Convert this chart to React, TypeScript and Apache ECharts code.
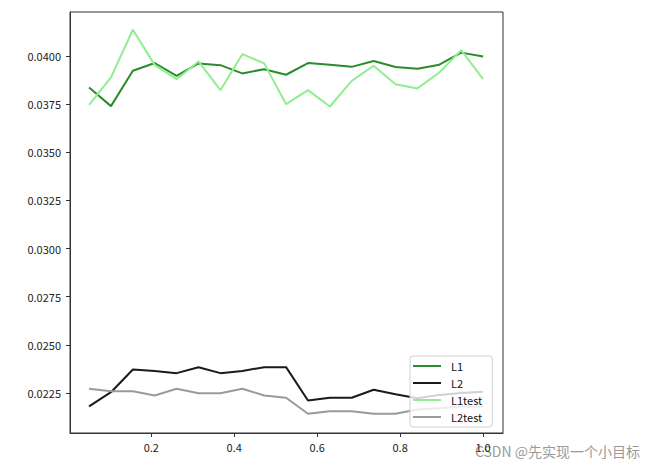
import React, { useEffect, useRef } from "react";
import * as echarts from "echarts";

const xValues = [0.05, 0.1028, 0.1556, 0.2083, 0.2611, 0.3139, 0.3667, 0.4194, 0.4722, 0.525, 0.5778, 0.6306, 0.6833, 0.7361, 0.7889, 0.8417, 0.8944, 0.9472, 1.0];
const l1 = [0.03837, 0.0374, 0.03924, 0.03964, 0.03897, 0.03962, 0.03953, 0.0391, 0.03932, 0.03903, 0.03964, 0.03955, 0.03944, 0.03974, 0.03943, 0.03934, 0.03955, 0.04018, 0.03998];
const l2 = [0.0218, 0.02254, 0.02372, 0.02364, 0.02353, 0.02384, 0.02353, 0.02364, 0.02384, 0.02384, 0.02211, 0.02225, 0.02225, 0.02267, 0.02243, 0.02222, 0.0224, 0.0225, 0.02256];
const l1test = [0.03746, 0.03889, 0.04137, 0.03953, 0.0388, 0.03972, 0.03823, 0.0401, 0.03962, 0.0375, 0.03823, 0.03738, 0.03871, 0.0395, 0.03854, 0.03832, 0.03915, 0.04031, 0.0388];
const l2test = [0.02272, 0.02259, 0.02259, 0.02237, 0.02272, 0.02249, 0.02249, 0.02272, 0.02237, 0.02225, 0.02142, 0.02155, 0.02155, 0.02142, 0.02142, 0.02164, 0.0217, 0.0218, 0.0218];
const xTicks = [0.2, 0.4, 0.6, 0.8, 1.0];
const yTicks = [0.0225, 0.025, 0.0275, 0.03, 0.0325, 0.035, 0.0375, 0.04];

const FONT = "'Noto Sans CJK SC', 'DejaVu Sans', sans-serif";

const seriesDefs = [
  { name: "L1", data: l1, color: "#2a8c2a" },
  { name: "L2", data: l2, color: "#1a1a1a" },
  { name: "L1test", data: l1test, color: "#90ee90" },
  { name: "L2test", data: l2test, color: "#9a9a9a" },
];

export default function App() {
  const ref = useRef<HTMLDivElement>(null);
  useEffect(() => {
    if (!ref.current) return;
    const chart = echarts.init(ref.current, undefined, { renderer: "svg" });
    chart.setOption({
      animation: false,
      backgroundColor: "#ffffff",
      grid: {
        left: 70,
        top: 12,
        width: 433,
        height: 421,
        show: true,
        borderColor: "#333",
        borderWidth: 1,
        containLabel: false,
      },
      xAxis: {
        type: "value",
        min: 0.004,
        max: 1.048,
        splitLine: { show: false },
        axisLine: { show: true, lineStyle: { color: "#333", width: 1 } },
        axisTick: { show: true, length: 4, lineStyle: { color: "#333" }, customValues: xTicks },
        axisLabel: {
          customValues: xTicks,
          margin: 8,
          fontSize: 11,
          fontFamily: FONT,
          color: "#222",
          formatter: (v: number) => v.toFixed(1),
        },
      },
      yAxis: {
        type: "value",
        min: 0.02042,
        max: 0.04229,
        splitLine: { show: false },
        axisLine: { show: true, lineStyle: { color: "#333", width: 1 } },
        axisTick: { show: true, length: 4, lineStyle: { color: "#333" }, customValues: yTicks },
        axisLabel: {
          customValues: yTicks,
          margin: 9,
          fontSize: 11,
          fontFamily: FONT,
          color: "#222",
          formatter: (v: number) => v.toFixed(4),
        },
      },
      legend: {
        orient: "vertical",
        left: 410,
        top: 356,
        padding: [4, 10, 4, 3],
        itemGap: 5,
        itemWidth: 28,
        itemHeight: 2,
        icon: "rect",
        backgroundColor: "rgba(255,255,255,0.8)",
        borderColor: "#d0d0d0",
        borderWidth: 1,
        borderRadius: 3,
        textStyle: { fontSize: 11, fontFamily: FONT, color: "#111", padding: [0, 0, 0, 5], lineHeight: 12 },
        data: seriesDefs.map((s) => s.name),
      },
      graphic: [
        {
          type: "text",
          right: 10,
          top: 444,
          style: {
            text: "CSDN @先实现一个小目标",
            fontSize: 14,
            fontFamily: FONT,
            fill: "#9a9a9a",
          },
        },
      ],
      series: seriesDefs.map((s) => ({
        name: s.name,
        type: "line",
        symbol: "none",
        color: s.color,
        lineStyle: { color: s.color, width: 2 },
        data: xValues.map((x, i) => [x, s.data[i]]),
      })),
    });
    return () => chart.dispose();
  }, []);
  return <div ref={ref} style={{ position: "fixed", left: 0, top: 0, width: 650, height: 465 }} />;
}
